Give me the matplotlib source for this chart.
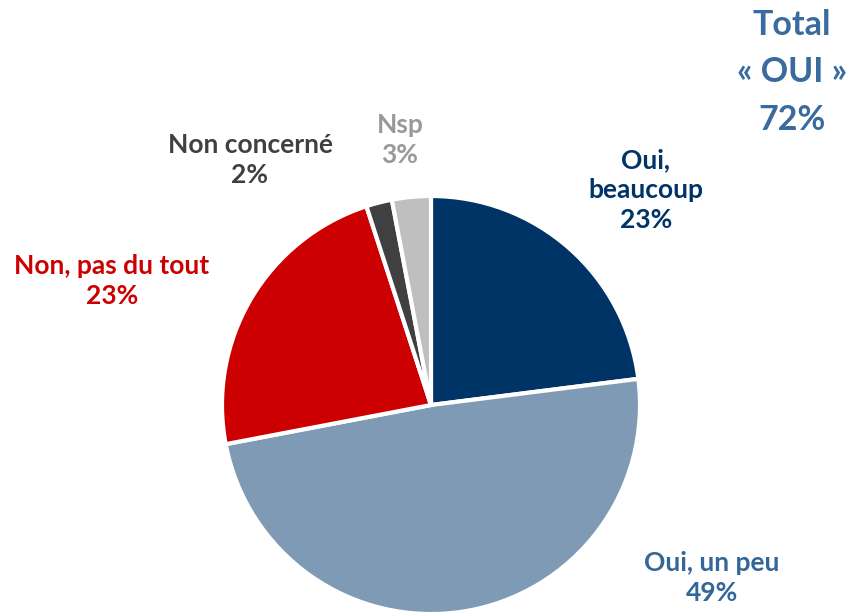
import matplotlib
matplotlib.use("Agg")
import matplotlib.pyplot as plt

# data
labels = ["Oui,\nbeaucoup", "Oui, un peu", "Non, pas du tout", "Non concerné", "Nsp"]
values = [23, 49, 23, 2, 3]
slice_colors = ["#003366", "#7f9ab5", "#cc0000", "#404040", "#bfbfbf"]
text_colors = ["#003366", "#336699", "#cc0000", "#404040", "#999999"]
explode = [0, 0.04, 0, 0, 0]
total_oui = 72

plt.rcParams["font.family"] = ["Lato", "DejaVu Sans"]

W, H = 852, 614
fig = plt.figure(figsize=(W / 100, H / 100), dpi=100)
ax = fig.add_axes([0, 0, 1, 1])

cx, cy, r = 431, H - 405, 209
wedges, _ = ax.pie(values, colors=slice_colors, startangle=90, counterclock=False,
                   explode=explode, center=(cx, cy), radius=r,
                   wedgeprops=dict(edgecolor="white", linewidth=3))
for w in wedges:
    w.set_clip_on(False)
ax.set_xlim(0, W)
ax.set_ylim(0, H)
ax.set_aspect("equal")
ax.axis("off")

# label positions in pixel space (from top)
label_pos = [(646, 190), (712, 578), (112, 281), (250, 160), (400, 140)]
for lab, v, col, (x, y) in zip(labels, values, text_colors, label_pos):
    ax.text(x, H - y, f"{lab}\n{v}%", ha="center", va="center", color=col,
            fontsize=19, fontweight="bold", linespacing=1.3)

ax.text(792, H - 72.5, f"Total\n« OUI »\n{total_oui}%", ha="center", va="center",
        color="#3a6b9f", fontsize=24.5, fontweight="bold", linespacing=1.6)

fig.savefig("out.png", dpi=100)
